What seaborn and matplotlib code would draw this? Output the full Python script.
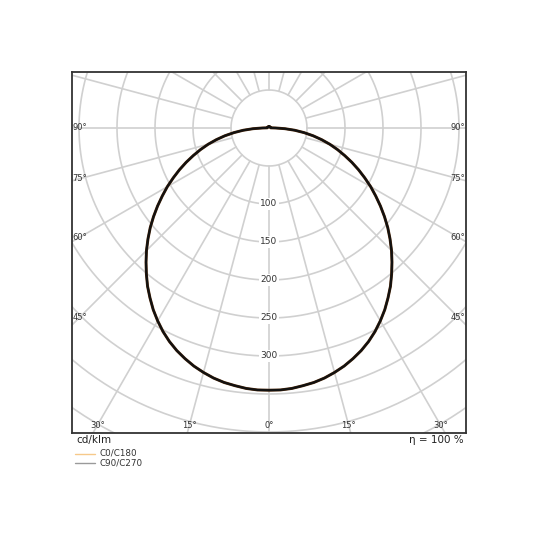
import numpy as np
import pandas as pd
import matplotlib
matplotlib.use("Agg")
import matplotlib.pyplot as plt
import seaborn as sns

# ---------------------------------------------------
# data: luminous intensity (cd/klm) vs gamma angle
# ---------------------------------------------------
gamma_deg = [0, 2.5, 5, 7.5, 10, 12.5, 15, 17.5, 20, 22.5, 25, 27.5, 30, 32.5, 35, 37.5,
             40, 42.5, 45, 47.5, 50, 52.5, 55, 57.5, 60, 62.5, 65, 67.5, 70, 72.5, 75,
             77.5, 80, 82.5, 85, 87.5, 90, 92.5, 95, 100, 120, 140, 160, 180]
c0_c180 = [345, 345, 344, 342, 340, 337, 333, 328.5, 323, 317, 310, 302, 293, 283.5, 273, 262.5,
           251, 239.5, 228, 216, 204, 191.5, 179, 166.5, 154.5, 142, 130, 118, 106, 94.5, 83,
           71, 59, 46.5, 34, 21, 9, 4, 2.5, 2, 2, 2, 2, 2]
c90_c270 = [345, 345, 344, 342, 340, 337, 333, 328.5, 323, 317, 310, 302, 293, 283.5, 273, 262.5,
            251, 239.5, 228, 216, 204, 191.5, 179, 166.5, 154.5, 142, 130, 118, 106, 94.5, 83,
            71, 59, 46.5, 34, 21, 9, 4, 2.5, 2, 2, 2, 2, 2]

grid_radii = [50, 100, 150, 200, 250, 300, 350, 400, 450, 500, 550]
radial_labels = [100, 150, 200, 250, 300]
side_angles = [45, 60, 75, 90]
bottom_angles = [0, 15, 30]
plane_names = ["C0/C180", "C90/C270"]
legend_colors = ["#f6c98a", "#9a9a9a"]
curve_colors = ["#4a2406", "#111111"]


def full_curve(values):
    # mirror one half-plane onto the other: left side then right side
    g = np.radians(np.array(gamma_deg, dtype=float))
    v = np.array(values, dtype=float)
    ang = np.concatenate([-g[::-1], g[1:]])
    val = np.concatenate([v[::-1], v[1:]])
    return val * np.sin(ang), -val * np.cos(ang)


rows = []
for name, vals in zip(plane_names, [c0_c180, c90_c270]):
    x, y = full_curve(vals)
    for i in range(len(x)):
        rows.append({"plane": name, "order": i, "x": x[i], "y": y[i]})
df = pd.DataFrame(rows)

sns.set_style("white")
plt.rcParams["font.family"] = ["DejaVu Sans"]

fig = plt.figure(figsize=(5.4, 5.4), dpi=100)
ax = fig.add_axes([72 / 540, 107 / 540, 394 / 540, 361 / 540])

scale = 0.76  # px per cd/klm
xmax = 197 / scale
ax.set_xlim(-xmax, xmax)
ax.set_ylim(-305 / scale, 56 / scale)
ax.set_aspect("equal", adjustable="box")

grid_col = "#d0d0d0"
t = np.linspace(0, 2 * np.pi, 400)
for r in grid_radii:
    ax.plot(r * np.cos(t), r * np.sin(t), color=grid_col, lw=1.2, zorder=1)
for a in range(0, 360, 15):
    ar = np.radians(a)
    ax.plot([50 * np.sin(ar), 700 * np.sin(ar)], [-50 * np.cos(ar), -700 * np.cos(ar)],
            color=grid_col, lw=1.2, zorder=1)

sns.lineplot(data=df[df.plane == "C0/C180"], x="x", y="y", sort=False, estimator=None,
             color=curve_colors[0], lw=2.1, ax=ax, legend=False, zorder=3)
sns.lineplot(data=df[df.plane == "C90/C270"], x="x", y="y", sort=False, estimator=None,
             color=curve_colors[1], lw=1.5, ax=ax, legend=False, zorder=4)

for r in radial_labels:
    ax.text(0, -r, str(r), ha="center", va="center", fontsize=6.5, color="#333333", zorder=5,
            bbox=dict(boxstyle="square,pad=0.15", fc="white", ec="none"))

inset = 8 / scale
for a in side_angles:
    xs = xmax - inset
    ys = -xs / np.tan(np.radians(a)) if a != 90 else 0
    ax.text(-xs, ys, f"{a}°", ha="center", va="center", fontsize=6, color="#333333", zorder=5)
    ax.text(xs, ys, f"{a}°", ha="center", va="center", fontsize=6, color="#333333", zorder=5)
yb = -(305 - 8) / scale
for a in bottom_angles:
    xb = -yb * np.tan(np.radians(a))
    ax.text(-xb, yb, f"{a}°", ha="center", va="center", fontsize=6, color="#333333", zorder=5)
    if a != 0:
        ax.text(xb, yb, f"{a}°", ha="center", va="center", fontsize=6, color="#333333", zorder=5)

ax.set_xticks([])
ax.set_yticks([])
ax.set_xlabel("")
ax.set_ylabel("")
for s in ax.spines.values():
    s.set_color("#333333")
    s.set_linewidth(1.3)

fig.text(76 / 540, 1 - 440 / 540, "cd/klm", ha="left", va="center", fontsize=7.5, color="#222222")
fig.text(464 / 540, 1 - 440 / 540, "η = 100 %", ha="right", va="center", fontsize=7.5, color="#222222")

for i, (name, col) in enumerate(zip(plane_names, legend_colors)):
    yy = 1 - (453.5 + 9 * i) / 540
    fig.add_artist(plt.Line2D([75 / 540, 95 / 540], [yy, yy], color=col, lw=1.0))
    fig.text(100 / 540, yy, name, ha="left", va="center", fontsize=6.3, color="#333333")

fig.savefig("out.png", dpi=100)
